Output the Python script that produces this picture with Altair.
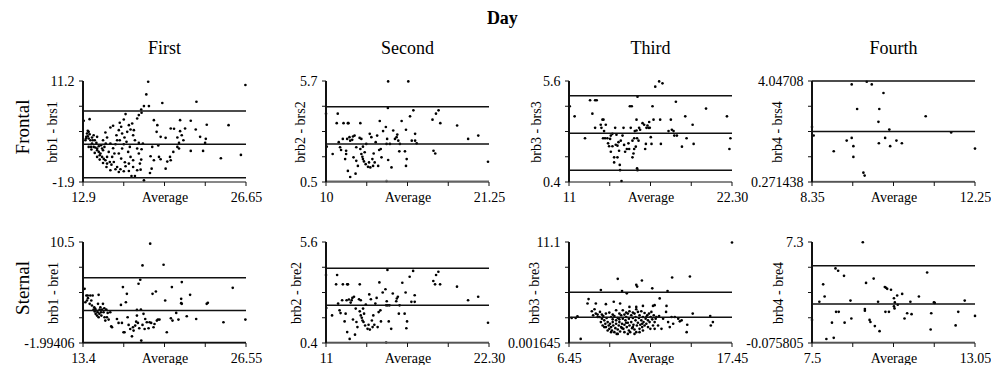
import altair as alt
import pandas as pd

FONT = "Liberation Serif"

DAYS = ["First", "Second", "Third", "Fourth"]
SITES = ["Frontal", "Sternal"]

# (average, difference) pairs
F1_POINTS = [(18.4,11.1),(18.24,9.46),(18.46,7.95),(18.04,7.95),(17.81,7.5),(19.59,8.34),(22.47,8.51),(26.6,10.68),(25.18,5.47),(23.34,5.52),(21.09,6.12),(21.99,6.04),(26.22,1.61),(24.53,1.18),(23.03,2.13),(21.99,2.13),(22.41,4.91),(22.78,3.96),(23.26,3.7),(23.2,3.17),
    (20.3,5.04),(20.58,5.0),(21.09,4.69),(21.23,4.17),(20.86,3.87),(21.37,3.52),(21.0,3.17),(20.86,2.65),(20.52,2.0),(20.24,1.35),(20.01,0.75),(19.87,-0.17),(20.3,0.92),(21.0,2.44),(21.51,5.04),(18.88,6.12),(19.17,5.47),(19.11,4.61),(19.45,3.96),(19.87,3.83),(19.25,2.83),(19.31,1.35),(19.45,1.05),(18.6,1.44),(18.74,2.65),(18.88,0.92),(18.69,-0.17),(18.55,-0.73),(17.76,-0.3),(17.7,0.49),(17.81,1.01),(17.61,1.79),(17.84,2.35),(17.95,3.09),(17.47,2.44),(17.61,3.17),(17.28,3.52),(17.13,4.17),(16.91,4.91),(17.05,5.69),(16.77,5.47),(17.47,6.34),(17.61,6.78),(17.84,7.08),(16.49,6.91),(16.34,6.21),(16.0,5.78),(16.12,5.26),(15.92,4.82),(15.72,4.17),(15.78,3.52),(15.64,3.0),(15.44,2.48),(15.55,1.79),(15.36,1.35),(15.5,0.7),(15.3,0.35),(15.78,0.05),(16.06,-0.25),(16.34,-0.51),(16.49,0.14),(16.77,0.49),(17.13,0.92),(16.91,1.35),(16.71,2.0),(16.85,2.65),(16.57,3.31),(16.4,3.87),(16.2,4.39),(16.63,4.61),(17.19,4.82),(16.99,-1.12),(17.28,-1.12),(18.04,-1.68),(17.47,-0.38),(17.13,0.05),(16.77,-0.47),(16.43,0.66),(16.12,1.14),(15.92,1.79),(16.2,2.44),(16.34,3.0),(16.0,3.52),(15.21,3.09),(15.07,2.0),(14.93,1.35),(14.79,0.92),(15.16,0.7),(14.93,0.49),(14.65,1.09),(14.51,1.35),(14.37,1.79),(14.59,2.22),(14.71,2.65),(14.82,3.09),(14.93,3.87),(14.79,4.52),(15.21,5.17),(15.44,5.39),(14.59,3.52),(14.42,2.87),(14.09,2.44),(14.23,2.0),(13.94,2.57),(13.8,2.65),(13.66,3.09),(13.52,3.52),(13.38,3.74),(13.3,4.04),(13.24,4.39),(13.38,4.61),(13.3,4.74),(13.46,4.3),(13.66,3.87),(13.89,3.52),(14.03,3.17),(14.23,2.74),(14.51,2.44),(13.58,2.65),(14.09,2.22),(14.31,1.57),(13.8,4.17),(14.09,3.96),(13.72,3.52),(13.18,3.96),(13.1,3.52),(12.96,6.04),(13.46,6.25),(13.15,3.74),(13.38,2.65),(13.61,2.31),(13.89,1.87),(14.09,1.35),(14.31,1.01),(14.59,0.57),(14.88,0.05),(15.21,-0.38),(15.64,-0.25),(15.92,-0.6)]

F2_POINTS = [(10.0,4.02),(10.05,2.32),(10.46,1.94),(10.74,3.53),(10.81,4.02),(10.88,2.55),(10.97,2.29),(11.04,2.15),(11.16,2.72),(11.21,3.53),(11.32,1.68),(11.39,2.11),(11.39,1.94),(11.46,2.72),(11.51,3.53),(11.55,3.53),(11.51,1.07),(11.67,0.76),(11.62,2.81),(11.67,2.63),(11.81,2.67),(11.86,2.84),(11.9,1.77),(11.97,2.89),(12.04,0.93),(12.09,2.29),(12.09,1.59),(12.2,1.33),(12.32,2.77),(12.37,2.2),(12.37,3.53),(12.44,2.72),(12.44,1.94),(12.51,1.8),(12.55,1.68),(12.55,2.32),(12.62,1.56),(12.67,2.03),(12.74,1.42),(12.78,2.46),(12.9,1.28),(12.97,1.51),(13.02,2.98),(13.06,1.25),(13.13,2.81),(13.2,1.68),(13.25,1.33),(13.29,1.97),(13.36,1.51),(13.43,2.55),(13.53,2.89),(13.6,1.33),(13.67,2.15),(13.71,3.64),(13.78,2.2),(13.83,1.77),(13.94,3.12),(14.13,3.33),(14.18,2.46),(14.22,2.72),(14.27,4.31),(14.29,5.68),(14.29,1.63),(14.41,2.46),(14.52,1.25),(14.64,3.15),(14.76,2.72),(14.87,2.81),(14.92,2.94),(14.99,2.63),(15.06,2.08),(15.1,2.46),(15.22,3.64),(15.45,2.08),(15.52,3.19),(15.52,1.33),(15.57,1.68),(15.68,5.68),(15.8,3.88),(15.92,2.63),(16.03,4.19),(16.15,2.98),(16.15,2.63),(16.26,2.49),(17.35,3.71),(17.42,2.11),(17.54,1.97),(17.59,4.02),(17.77,4.19),(17.89,3.53),(19.05,3.41),(19.81,2.72),(20.51,2.89),(21.18,1.54),(14.18,0.55)]

F3_POINTS = [(11.05,4.3),(11.39,3.78),(12.11,2.65),(12.46,4.61),(12.62,3.92),(12.81,4.61),(12.92,4.61),(12.81,3.19),(13.2,3.35),(13.25,3.19),(13.32,3.61),(13.39,3.61),(13.36,2.65),(13.43,3.02),(13.55,3.35),(13.5,2.65),(13.66,2.65),(13.71,2.39),(13.78,2.24),(13.85,2.62),(13.9,2.79),(13.9,1.96),(14.01,2.24),(14.01,2.88),(14.13,1.67),(14.13,1.41),(14.2,3.19),(14.24,2.32),(14.29,2.83),(14.36,1.67),(14.36,2.27),(14.43,2.45),(14.47,2.01),(14.52,1.28),(14.54,1.01),(14.59,2.53),(14.64,0.45),(14.71,2.79),(14.78,3.19),(14.82,2.31),(14.89,1.96),(15.01,2.1),(15.12,2.39),(15.17,2.1),(15.22,4.3),(15.28,3.19),(15.35,4.3),(15.4,2.53),(15.4,1.67),(15.47,1.87),(15.52,2.1),(15.52,2.65),(15.56,3.02),(15.63,2.22),(15.68,3.61),(15.68,3.05),(15.72,2.65),(15.72,1.11),(15.75,1.01),(15.75,4.79),(15.82,2.53),(15.86,3.19),(15.93,3.09),(16.1,3.43),(16.21,3.35),(16.28,2.1),(16.33,2.36),(16.37,3.19),(16.44,3.31),(16.51,3.19),(16.56,3.49),(16.6,3.19),(16.67,2.71),(16.72,2.36),(16.79,4.3),(16.86,3.61),(16.98,5.31),(17.25,5.58),(17.48,5.48),(17.32,3.61),(17.37,2.36),(17.9,3.02),(18.06,3.61),(18.13,3.09),(18.25,3.02),(18.3,2.79),(18.41,4.53),(18.48,2.79),(18.83,2.22),(19.06,3.78),(19.15,2.65),(19.57,3.35),(19.64,2.36),(20.5,4.18),(21.95,3.78),(22.12,2.1),(22.19,2.65)]

F4_POINTS = [(8.35,2.33),(8.39,2.01),(8.87,1.42),(9.18,1.82),(9.3,1.92),(9.3,3.92),(9.34,1.61),(9.34,1.21),(9.43,3.0),(9.58,0.62),(9.61,0.51),(9.66,4.02),(9.78,3.92),(9.94,2.52),(9.95,1.72),(9.96,3.0),(10.06,3.6),(10.1,1.92),(10.2,2.23),(10.22,1.61),(10.37,1.82),(10.5,1.72),(11.07,2.73),(11.68,2.12),(12.25,1.52)]

S1_POINTS = [(13.53,4.71),(13.59,3.05),(13.67,3.88),(13.72,3.26),(13.8,3.55),(13.78,3.88),(13.94,2.85),(13.99,3.88),(14.07,3.26),(14.12,2.64),(14.18,3.88),(14.26,2.14),(14.31,2.43),(14.34,1.9),(14.39,2.23),(14.42,1.61),(14.47,2.02),(14.53,1.4),(14.58,1.81),(14.61,2.85),(14.66,3.96),(14.66,1.19),(14.72,1.61),(14.74,2.14),(14.8,2.43),(14.85,1.81),(14.88,1.4),(14.93,2.14),(15.01,2.85),(15.06,1.81),(15.12,2.31),(15.14,1.19),(15.2,0.78),(15.28,2.14),(15.33,1.19),(15.39,1.73),(15.47,0.9),(15.6,1.81),(15.68,0.07),(15.74,-0.05),(16.14,0.98),(16.27,0.49),(16.46,2.72),(16.54,0.49),(16.62,4.92),(16.67,-0.67),(16.75,-0.67),(16.86,3.05),(16.94,4.09),(17.0,1.19),(17.08,0.24),(17.21,-0.26),(17.35,-1.17),(17.43,-0.05),(17.48,-0.46),(17.61,0.16),(17.69,0.65),(17.75,2.1),(17.75,1.4),(17.83,0.49),(17.88,5.33),(17.94,-0.17),(18.02,5.83),(18.07,2.14),(18.1,-1.7),(18.2,7.6),(18.2,0.24),(18.28,1.61),(18.37,-0.26),(18.42,0.98),(18.55,0.57),(18.69,-0.17),(18.77,0.57),(18.82,10.29),(18.9,0.49),(19.01,4.09),(19.09,-0.05),(19.17,0.36),(19.28,4.38),(19.36,0.78),(19.44,0.9),(19.57,0.9),(19.9,7.69),(20.03,3.26),(20.16,-0.67),(20.49,1.07),(20.57,4.92),(20.62,0.78),(20.92,1.73),(21.1,0.9),(21.32,2.93),(21.32,3.47),(21.37,5.54),(21.37,2.85),(21.77,1.32),(22.04,3.96),(22.53,0.98),(23.38,2.85),(23.47,2.97),(24.73,0.57),(25.48,4.83),(26.5,0.9)]

S2_POINTS = [(11.0,3.9),(11.02,2.2),(11.42,1.82),(11.7,3.42),(11.77,3.9),(11.84,2.43),(11.94,2.08),(12.01,1.94),(12.12,2.6),(12.17,3.42),(12.29,1.51),(12.36,1.91),(12.43,2.6),(12.47,3.42),(12.52,3.42),(12.47,0.96),(12.64,0.61),(12.59,2.64),(12.71,2.48),(12.78,2.6),(12.83,2.72),(12.87,1.61),(12.94,2.78),(13.01,0.83),(13.06,2.17),(13.11,1.48),(13.18,1.22),(13.29,2.65),(13.34,2.03),(13.34,3.42),(13.41,2.6),(13.41,1.82),(13.48,1.7),(13.53,1.56),(13.57,2.17),(13.6,1.48),(13.64,1.91),(13.71,1.3),(13.76,2.38),(13.88,1.13),(13.95,1.34),(14.0,2.9),(14.04,1.09),(14.11,2.65),(14.18,1.56),(14.23,1.22),(14.28,1.82),(14.35,1.34),(14.42,2.43),(14.51,2.72),(14.58,1.22),(14.65,1.99),(14.7,3.52),(14.77,2.08),(14.81,1.51),(14.93,3.0),(15.12,3.17),(15.17,2.34),(15.21,2.55),(15.26,4.16),(15.28,2.34),(15.35,1.51),(15.4,2.34),(15.52,1.13),(15.63,2.95),(15.87,2.55),(15.91,2.69),(15.98,2.78),(16.05,1.91),(16.1,2.34),(16.29,3.5),(16.45,1.91),(16.52,3.0),(16.57,1.16),(16.62,1.51),(16.8,3.81),(16.92,2.52),(17.04,4.11),(17.15,2.86),(17.15,2.52),(18.44,3.59),(18.56,3.42),(18.63,3.9),(18.79,4.07),(18.91,3.42),(20.08,3.3),(20.85,2.6),(21.55,2.78),(22.23,1.44),(15.17,0.44)]

S3_POINTS = [(17.45,11.05),(14.61,7.31),(13.41,7.2),(11.37,6.87),(9.74,7.05),(10.99,6.39),(11.05,6.2),(10.03,5.72),(12.07,6.01),(13.1,5.72),(8.6,5.83),(10.35,5.46),(7.77,4.83),(7.7,4.34),(8.26,4.34),(8.94,4.27),(9.47,4.53),(9.9,4.34),(10.53,3.97),(10.99,3.97),(11.44,4.08),(12.12,4.08),(12.23,4.16),(12.57,4.9),(13.03,4.08),(6.63,2.75),(6.9,2.75),(7.02,2.93),(7.24,0.45),(8.08,3.04),(7.99,3.49),(8.17,3.71),(8.38,3.12),(8.67,2.67),(13.37,2.86),(13.59,2.86),(13.82,2.67),(13.93,2.38),(14.05,2.49),(14.43,2.01),(14.39,1.19),(14.8,3.23),(15.98,2.97),(16.16,2.3),(16.02,1.93),(12.8,2.67),(12.69,1.56),(13.14,2.3),(13.25,1.75),(13.48,2.12),(13.0,3.42),(12.53,2.97),(12.3,2.67),
    (8.49,2.86),(8.6,2.3),(8.72,1.93),(8.83,2.49),(8.9,2.12),(8.94,1.75),(9.06,2.3),(9.13,1.93),(9.17,1.56),(9.22,2.12),(9.29,1.75),(9.35,1.37),(9.4,2.3),(9.44,1.93),(9.51,1.19),(9.58,1.63),(9.63,2.12),(9.67,1.0),(9.74,1.49),(9.81,1.93),(9.85,2.3),(9.9,1.26),(9.97,1.75),(10.03,2.12),(10.08,2.67),(10.12,1.56),(10.19,2.01),(10.26,2.49),(10.31,2.86),(10.35,1.75),(10.42,2.23),(10.49,1.37),(10.53,1.93),(10.58,1.19),(10.65,2.3),(10.71,1.63),(10.76,2.75),(10.8,2.01),(10.87,1.49),(10.94,2.49),(10.99,1.19),(11.03,1.93),(11.1,2.23),(11.17,2.75),(11.21,1.56),(11.26,2.01),(11.33,2.49),(11.39,1.75),(11.44,2.86),(11.48,2.3),(11.55,1.93),(11.62,2.67),(11.67,2.12),(11.73,3.05),(11.78,2.49),(11.85,3.23),(11.89,2.3),(11.96,2.86),(12.01,3.42),(12.07,2.6),(12.12,1.93),(12.17,3.05),(12.23,2.3),(12.35,2.86),(12.46,1.93),
    (8.26,3.23),(8.38,2.86),(8.54,3.42),(8.76,2.97),(8.99,2.75),(9.29,2.86),(9.51,2.97),(9.74,2.75),(9.97,3.05),(10.19,3.12),(10.42,3.23),(10.65,3.05),(10.87,3.23),(11.1,3.42),(11.33,3.49),(11.55,3.3),(9.63,3.6),(10.08,3.6),(10.53,3.49),(10.99,3.71),(9.17,3.34),(9.4,2.6),(9.85,2.6),(10.31,2.23),(10.76,1.75),(11.21,1.19),(10.19,1.19),(9.74,1.0),(9.29,1.19),(9.06,1.37),(10.42,1.0),(10.87,1.0),(8.83,1.75),(9.63,2.49),(10.03,1.63),(10.49,2.67),(10.94,2.86),(11.39,2.12),(11.78,1.75),(11.94,1.56),(12.23,1.56),(11.44,1.37),(9.4,3.12),(9.85,3.23),(10.31,3.34),(10.76,3.34),(11.21,3.05),(11.67,2.86),(8.94,3.23),(8.67,3.12)]

S4_POINTS = [(7.5,1.61),(7.75,2.94),(7.88,4.21),(7.93,3.32),(7.99,0.22),(8.18,1.41),(8.24,0.3),(8.3,5.37),(8.32,2.2),(8.39,5.2),(8.41,2.2),(8.59,4.83),(8.61,1.41),(8.81,3.02),(8.84,1.71),(9.23,7.28),(9.3,2.28),(9.3,2.4),(9.34,4.31),(9.46,1.61),(9.49,1.46),(9.6,4.63),(9.64,1.16),(9.75,2.94),(9.8,0.79),(9.98,4.01),(10.0,2.2),(10.02,3.96),(10.06,3.88),(10.12,2.2),(10.19,3.81),(10.29,3.19),(10.29,2.6),(10.31,2.45),(10.32,2.89),(10.4,3.39),(10.42,2.72),(10.57,3.51),(10.65,1.71),(10.74,2.1),(10.85,2.94),(10.89,2.03),(11.14,3.32),(11.42,5.07),(11.54,0.91),(11.56,2.1),(11.65,2.89),(11.68,2.85),(12.39,1.21),(12.48,2.2),(12.7,3.02),(13.05,1.9)]

POINTS = [F1_POINTS, F2_POINTS, F3_POINTS, F4_POINTS, S1_POINTS, S2_POINTS, S3_POINTS, S4_POINTS]

X_DOMAINS = [[12.9, 26.65], [10, 21.25], [11, 22.30], [8.35, 12.25],
             [13.4, 26.55], [11, 22.30], [6.45, 17.45], [7.5, 13.05]]
Y_DOMAINS = [[-1.9, 11.2], [0.5, 5.7], [0.4, 5.6], [0.271438, 4.04708],
             [-1.99406, 10.5], [0.4, 5.6], [0.001645, 11.1], [-0.075805, 7.3]]
# upper limit, mean difference, lower limit
LIMITS = [[7.31, 2.99, -1.34], [4.37, 2.46, 0.55], [4.84, 2.91, 1.01], [4.04708, 2.16, 0.29],
          [6.07, 2.02, -1.93], [4.25, 2.34, 0.44], [5.57, 2.82, 0.08], [5.57, 2.77, -0.03]]
X_LABELS = [["12.9", "26.65"], ["10", "21.25"], ["11", "22.30"], ["8.35", "12.25"],
            ["13.4", "26.55"], ["11", "22.30"], ["6.45", "17.45"], ["7.5", "13.05"]]
Y_LABELS = [["-1.9", "11.2"], ["0.5", "5.7"], ["0.4", "5.6"], ["0.271438", "4.04708"],
            ["-1.99406", "10.5"], ["0.4", "5.6"], ["0.001645", "11.1"], ["-0.075805", "7.3"]]
Y_TITLES = ["brb1 - brs1", "brb2 - brs2", "brb3 - brs3", "brb4 - brs4",
            "brb1 - bre1", "brb2 - bre2", "brb3 - bre3", "brb4 - bre4"]

# styling
W, H = 163, 101
TICK_PX = 4
Y_TITLE_X = [-24, -19, -26, -28, -23, -23, -28, -27]
LOWER_GRAY = [False, True, False, True, False, True, True, True]
INK = "#111111"


def label_expr(lo, hi):
    return f"datum.index == 0 ? '{lo}' : (datum.index == 1 ? '{hi}' : '')"


def segments(i, xticks, yticks):
    """Line segments for the limit lines, the two axis lines and the tick marks."""
    xlo, xhi = X_DOMAINS[i]
    ylo, yhi = Y_DOMAINS[i]
    dx = TICK_PX * (xhi - xlo) / W
    dy = TICK_PX * (yhi - ylo) / H
    rows = []
    cols = [INK, INK, "#9a9a9a" if LOWER_GRAY[i] else INK]
    for v, c in zip(LIMITS[i], cols):
        rows.append(dict(x=xlo, x2=xhi, y=v, y2=v, c=c, w=1.5))
    rows.append(dict(x=xlo, x2=xlo, y=ylo, y2=yhi, c=INK, w=2))
    rows.append(dict(x=xlo, x2=xhi, y=ylo, y2=ylo, c=INK, w=1))
    for t in xticks:
        rows.append(dict(x=t, x2=t, y=ylo - dy, y2=ylo, c=INK, w=1))
    for t in yticks:
        rows.append(dict(x=xlo - dx, x2=xlo, y=t, y2=t, c=INK, w=1))
    return pd.DataFrame(rows)


def panel(i):
    xlo, xhi = X_DOMAINS[i]
    ylo, yhi = Y_DOMAINS[i]
    xticks = [xlo + (xhi - xlo) * k / 4 for k in range(5)]
    yticks = [ylo + (yhi - ylo) * k / 4 for k in range(5)]
    xs = alt.Scale(domain=[xlo, xhi], nice=False, zero=False)
    ys = alt.Scale(domain=[ylo, yhi], nice=False, zero=False)
    xaxis = alt.Axis(values=xticks, labelExpr=label_expr(*X_LABELS[i]), title="Average",
                     titleY=8, titleBaseline="top", titleFontSize=14,
                     labelFlush=False, labelOverlap=False,
                     domain=False, ticks=False, labelPadding=8)
    yaxis = alt.Axis(values=yticks, labelExpr=label_expr(*Y_LABELS[i]), title=Y_TITLES[i],
                     titleX=Y_TITLE_X[i], titleY=H / 2, labelOverlap=False,
                     domain=False, ticks=False, labelPadding=9)
    pts = pd.DataFrame(POINTS[i], columns=["avg", "diff"])
    points = alt.Chart(pts).mark_circle(size=7, color="black", opacity=1).encode(
        x=alt.X("avg:Q", scale=xs, axis=xaxis),
        y=alt.Y("diff:Q", scale=ys, axis=yaxis),
    )
    segs = alt.Chart(segments(i, xticks, yticks)).mark_rule().encode(
        x=alt.X("x:Q", scale=xs, axis=xaxis),
        x2="x2:Q",
        y=alt.Y("y:Q", scale=ys, axis=yaxis),
        y2="y2:Q",
        color=alt.Color("c:N", scale=None),
        strokeWidth=alt.StrokeWidth("w:Q", scale=None),
    )
    layers = [points, segs]
    if i % 4 == 0:
        site = SITES[i // 4]
        txt = alt.Chart(pd.DataFrame({"t": [site]})).mark_text(
            angle=270, font=FONT, fontSize=19, align="center", baseline="middle", color="black"
        ).encode(text="t:N", x=alt.value(-60), y=alt.value(46))
        layers.append(txt)
    ch = alt.layer(*layers).properties(width=W, height=H)
    if i < 4:
        ch = ch.properties(title=alt.TitleParams(DAYS[i], font=FONT, fontSize=18, fontWeight="normal",
                                                 color="black", offset=16, anchor="middle", frame="group"))
    return ch


chart = alt.concat(
    *[panel(i) for i in range(8)],
    columns=4,
    spacing={"row": 60, "column": 80},
    bounds="flush",
    title=alt.TitleParams("Day", font=FONT, fontSize=18, fontWeight="bold", color="black",
                          anchor="middle", offset=12),
).properties(
    padding={"left": 6, "top": 2, "right": 0, "bottom": 0}
).configure_view(strokeWidth=0).configure_axis(
    grid=False, labelColor="black",
    labelFont=FONT, labelFontSize=14, titleFont=FONT, titleFontSize=14,
    titleFontWeight="normal", titleColor="black",
)

chart.save("out.html", embed_options={"renderer": "svg", "actions": False})
